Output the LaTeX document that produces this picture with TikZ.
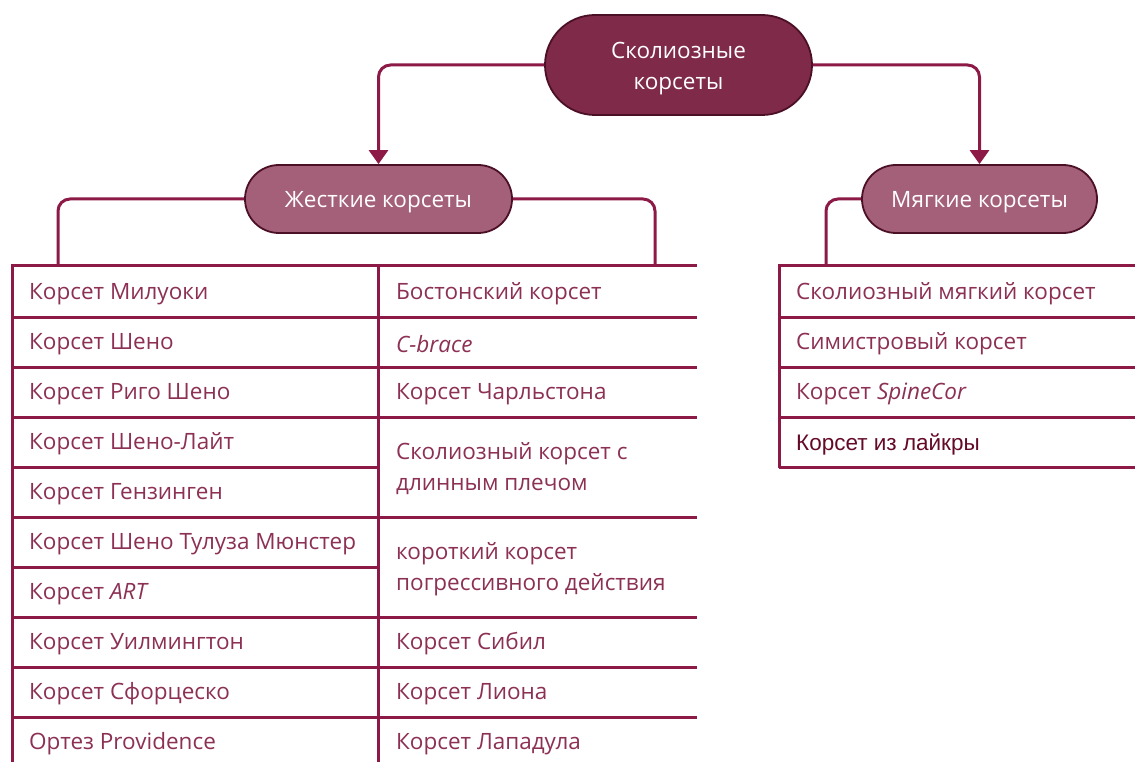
\documentclass[tikz,border=0pt]{standalone}
\usepackage{fontspec}
\setmainfont{Open Sans}
\newfontfamily\arialf{Liberation Sans}
\usetikzlibrary{shapes.misc,arrows.meta}
\definecolor{rootc}{RGB}{126,42,72}
\definecolor{childc}{RGB}{164,96,120}
\definecolor{pillborder}{RGB}{75,15,38}
\definecolor{linec}{RGB}{140,25,70}
\definecolor{textc}{RGB}{140,48,84}
\definecolor{darktext}{RGB}{100,10,40}
\tikzset{
  pill/.style={rounded rectangle, draw=pillborder, line width=1.8pt, inner sep=0pt},
  pilltext/.style={text=white, font=\fontsize{22.5}{31}\selectfont, align=center, inner sep=0pt},
  rootpill/.style={pill, fill=rootc, minimum width=267pt, minimum height=100pt},
  childpill/.style={pill, fill=childc, minimum height=68pt},
  conn/.style={draw=linec, line width=3pt, rounded corners=12pt},
  arr/.style={conn, -{Triangle[width=19pt,length=14pt]}},
  grid/.style={draw=linec, line width=3pt},
  cell/.style={anchor=west, text=textc, font=\fontsize{22.5}{31}\selectfont, align=left, inner sep=0pt},
}
\begin{document}
\begin{tikzpicture}[x=1pt,y=-1pt]
\path[use as bounding box, fill=white] (0,0) rectangle (1135,762);

% pills
\node[rootpill, label={[pilltext, yshift=-4pt]center:{Сколиозные\\корсеты}}] (root) at (678.5,65) {};
\node[childpill, minimum width=267pt, label={[pilltext, yshift=-3pt]center:Жесткие корсеты}] (hard) at (378.5,199) {};
\node[childpill, minimum width=235pt, label={[pilltext, yshift=-3pt]center:Мягкие корсеты}] (soft) at (979.5,199) {};

% anchor points on tables
\coordinate (hl) at (58,265);
\coordinate (hr) at (655,265);
\coordinate (sl) at (826,265);

% connectors
\draw[arr] (root.west) -| (hard.north);
\draw[arr] (root.east) -| (soft.north);
\draw[conn] (hard.west) -| (hl);
\draw[conn] (hard.east) -| (hr);
\draw[conn] (soft.west) -| (sl);

% left table grid
\draw[grid] (12,265) -- (697,265);
\foreach \y in {317,367,417,517,617,667,717} \draw[grid] (12,\y) -- (697,\y);
\foreach \y in {467,567} \draw[grid] (12,\y) -- (378,\y);
\draw[grid] (12,264) -- (12,770);
\draw[grid] (378,264) -- (378,770);

% right table grid
\draw[grid] (779,265) -- (1140,265);
\foreach \y in {317,367,417} \draw[grid] (779,\y) -- (1140,\y);
\draw[grid] (779,467) -- (1140,467);
\draw[grid] (779,264) -- (779,468);

% left column cells
\node[cell] (l1) at (29,294) {Корсет Милуоки};
\node[cell] (l2) at (29,344) {Корсет Шено};
\node[cell] (l3) at (29,394) {Корсет Риго Шено};
\node[cell] (l4) at (29,444) {Корсет Шено-Лайт};
\node[cell] (l5) at (29,494) {Корсет Гензинген};
\node[cell] (l6) at (29,544) {Корсет Шено Тулуза Мюнстер};
\node[cell] (l7) at (29,594) {Корсет \textit{ART}};
\node[cell] (l8) at (29,644) {Корсет Уилмингтон};
\node[cell] (l9) at (29,694) {Корсет Сфорцеско};
\node[cell] (l10) at (29,744) {Ортез Providence};

% right column cells
\node[cell] (r1) at (396,294) {Бостонский корсет};
\node[cell] (r2) at (396,344) {\textit{C-brace}};
\node[cell] (r3) at (396,394) {Корсет Чарльстона};
\node[cell] (r4) at (396,469) {Сколиозный корсет с\\длинным плечом};
\node[cell] (r5) at (396,569) {короткий корсет\\погрессивного действия};
\node[cell] (r6) at (396,644) {Корсет Сибил};
\node[cell] (r7) at (396,694) {Корсет Лиона};
\node[cell] (r8) at (396,744) {Корсет Лападула};

% soft table cells
\node[cell] (s1) at (796,294) {Сколиозный мягкий корсет};
\node[cell] (s2) at (796,344) {Симистровый корсет};
\node[cell] (s3) at (796,394) {Корсет \textit{SpineCor}};
\node[cell, text=darktext, font=\arialf\fontsize{22.5}{31}\selectfont] (s4) at (796,444) {Корсет из лайкры};
\end{tikzpicture}
\end{document}
